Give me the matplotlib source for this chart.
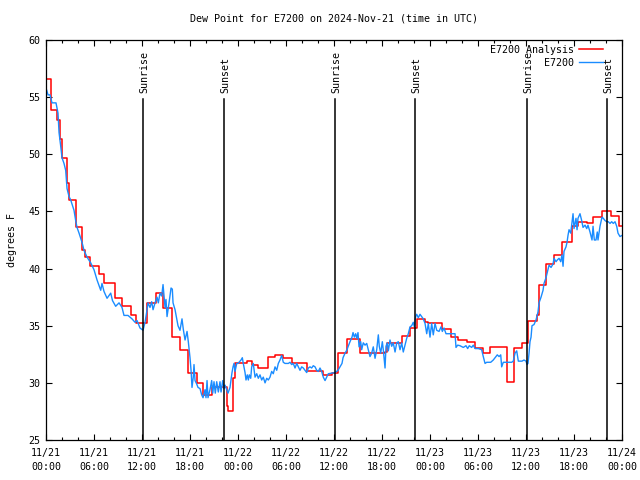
import numpy as np
from matplotlib import pyplot as plt
from matplotlib.ticker import MultipleLocator

# hours since 2024-11-21 00:00 UTC
analysis_t = [0.0, 0.63, 1.38, 1.75, 2.0, 2.6, 2.9, 3.75, 4.5, 4.9, 5.5, 6.6, 7.25, 8.6,
              9.5, 10.6, 11.25, 12.6, 13.75, 14.6, 15.75, 16.75, 17.75, 18.9, 19.6, 20.75,
              22.6, 22.75, 23.4, 23.6, 25.1, 25.75, 26.5, 27.75, 28.6, 29.6, 30.75, 32.6,
              34.6, 35.75, 36.5, 37.6, 39.25, 42.4, 42.6, 44.5, 45.5, 46.4, 47.4, 47.75,
              49.5, 50.6, 51.5, 52.6, 53.6, 54.6, 55.5, 57.6, 58.55, 59.5, 60.3, 61.4,
              61.6, 62.55, 63.55, 64.55, 65.7, 66.45, 67.6, 68.4, 69.5, 70.6, 71.6, 72.0]
analysis_v = [56.6, 53.9, 53.0, 51.3, 49.7, 47.5, 46.0, 43.6, 41.6, 41.0, 40.2, 39.5, 38.7, 37.4,
              36.7, 35.9, 35.2, 37.0, 37.85, 36.55, 34.0, 32.9, 30.9, 30.0, 28.95, 29.6,
              28.0, 27.5, 30.4, 31.7, 31.9, 31.6, 31.3, 32.3, 32.4, 32.2, 31.7, 31.0,
              30.7, 30.9, 32.6, 33.8, 32.6, 32.7, 33.5, 34.1, 34.8, 35.6, 35.3, 35.2,
              34.7, 34.0, 33.75, 33.6, 33.05, 32.6, 33.1, 30.1, 33.05, 33.5, 35.4, 35.9,
              38.6, 40.4, 41.2, 42.3, 43.7, 44.1, 44.0, 44.5, 45.0, 44.6, 43.7, 43.7]

obs_t = [0.09, 0.25, 0.5, 0.75, 1.25, 1.5, 1.63, 1.84, 2.0, 2.25, 2.46, 2.63, 2.88, 3.09,
         3.5, 3.71, 3.88, 4.13, 4.5, 4.75, 5.13, 5.59, 6.0, 6.38, 6.84, 7.0, 7.25, 7.63,
         8.09, 8.31, 8.71, 9.13, 9.5, 9.75, 10.25, 10.75, 11.13, 11.38, 11.75, 12.13,
         12.38, 12.63, 12.75, 13.0, 13.21, 13.38, 13.63, 13.88, 14.04, 14.25, 14.46, 14.63,
         14.88, 15.0, 15.13, 15.38, 15.63, 15.79, 15.88, 16.13, 16.38, 16.5, 16.75, 17.0,
         17.16, 17.38, 17.63, 17.79, 18.0, 18.13, 18.25, 18.41, 18.5, 18.63, 18.84, 19.0,
         19.25, 19.46, 19.63, 19.88, 20.0, 20.13, 20.25, 20.5, 20.71, 20.84, 21.0, 21.16,
         21.34, 21.54, 21.75, 21.88, 22.09, 22.25, 22.38, 22.59, 22.75, 23.0, 23.25, 23.38,
         23.5, 23.63, 23.84, 24.0, 24.38, 24.54, 24.66, 24.88, 25.0, 25.16, 25.29, 25.41,
         25.59, 25.71, 25.91, 26.13, 26.34, 26.54, 26.75, 26.96, 27.16, 27.38, 27.59, 27.79,
         28.0, 28.21, 28.41, 28.63, 28.84, 29.04, 29.25, 29.46, 29.66, 29.88, 30.29, 30.5,
         30.71, 30.91, 31.13, 31.34, 31.54, 31.75, 31.96, 32.16, 32.38, 32.59, 32.79, 33.0,
         33.21, 33.41, 33.63, 33.84, 34.04, 34.25, 34.46, 34.66, 34.88, 35.09, 35.29, 35.75,
         36.13, 36.5, 36.75, 37.0, 37.13, 37.38, 37.63, 37.75, 38.0, 38.25, 38.38, 38.54,
         38.71, 38.84, 39.0, 39.13, 39.34, 39.46, 39.66, 39.88, 40.09, 40.29, 40.5, 40.71,
         40.91, 41.13, 41.34, 41.54, 41.66, 41.84, 42.04, 42.16, 42.38, 42.5, 42.66, 42.79,
         43.0, 43.21, 43.41, 43.63, 43.84, 44.04, 44.25, 44.46, 44.66, 44.88, 45.09, 45.29,
         45.5, 45.71, 45.91, 46.04, 46.21, 46.34, 46.54, 46.75, 46.96, 47.16, 47.38, 47.59,
         47.79, 48.0, 48.21, 48.41, 48.63, 48.84, 49.13, 49.38, 49.54, 49.75, 50.0, 50.25,
         50.75, 51.13, 51.25, 51.46, 51.75, 52.16, 52.5, 52.71, 52.91, 53.21, 53.41, 53.63,
         54.04, 54.46, 54.66, 54.88, 55.09, 55.29, 55.59, 55.91, 56.25, 56.41, 56.63, 56.84,
         56.96, 57.16, 57.59, 58.0, 58.21, 58.41, 58.63, 58.84, 59.04, 59.25, 59.5, 59.75,
         60.0, 60.13, 60.25, 60.38, 60.5, 60.63, 60.75, 61.0, 61.25, 61.5, 61.63, 61.88,
         62.13, 62.25, 62.5, 62.75, 62.88, 63.13, 63.38, 63.5, 63.75, 63.91, 64.13, 64.34,
         64.5, 64.63, 64.75, 65.0, 65.13, 65.25, 65.38, 65.59, 65.75, 65.88, 66.0, 66.25,
         66.38, 66.5, 66.75, 66.96, 67.13, 67.38, 67.59, 67.75, 68.0, 68.25, 68.38, 68.54,
         68.75, 68.91, 69.0, 69.25, 69.5, 69.66, 69.88, 70.09, 70.29, 70.5, 70.71, 70.91,
         71.13, 71.34, 71.5, 71.75, 72.0]
obs_v = [55.6, 55.2, 55.2, 54.5, 54.5, 53.6, 51.9, 50.7, 49.7, 49.2, 48.6, 47.0, 46.3, 46.0,
         45.1, 44.2, 43.6, 43.1, 42.3, 41.6, 41.0, 40.5, 39.9, 39.0, 38.1, 38.7, 38.0, 37.4,
         37.85, 37.2, 36.7, 37.0, 36.6, 35.9, 35.9, 35.6, 35.3, 35.45, 34.8, 34.6,
         35.3, 36.4, 37.0, 36.6, 37.1, 36.4, 37.0, 37.5, 37.0, 37.85, 37.6, 38.6,
         36.6, 37.3, 35.8, 37.0, 38.3, 38.2, 37.0, 36.4, 35.45, 35.0, 34.6, 35.6,
         34.7, 33.75, 34.5, 33.6, 32.2, 31.1, 29.6, 30.5, 31.6, 30.2, 29.9, 29.6,
         29.5, 28.95, 28.7, 29.4, 28.7, 30.2, 28.7, 29.4, 30.2, 29.1, 30.1, 29.1,
         30.1, 29.2, 30.1, 29.2, 30.2, 29.5, 29.8, 29.4, 29.1, 29.6, 30.9, 31.4,
         31.7, 31.0, 31.7, 31.7, 32.0, 32.2, 31.7, 30.9, 30.25, 30.7, 30.25, 30.7,
         30.4, 31.4, 31.7, 30.5, 30.8, 30.4, 30.7, 30.25, 30.5, 30.0, 30.4, 30.25,
         30.5, 31.0, 30.8, 31.4, 31.1, 31.7, 32.0, 32.4, 31.8, 31.7, 31.7, 31.8,
         31.6, 31.7, 31.3, 31.7, 31.4, 31.1, 31.4, 31.3, 31.1, 30.9, 31.3, 31.4,
         31.3, 31.5, 31.4, 31.1, 31.0, 31.3, 31.0, 30.5, 30.2, 30.5, 30.8, 30.85,
         30.9, 31.1, 31.4, 31.7, 32.2, 32.6, 32.9, 33.15, 33.6, 34.0, 34.4, 34.0,
         34.3, 33.9, 34.4, 33.15, 33.6, 32.9, 33.5, 33.3, 33.45, 32.9, 32.3, 32.6,
         33.15, 32.15, 32.9, 34.2, 33.2, 32.6, 33.6, 32.9, 31.3, 33.2, 33.5, 32.8,
         33.75, 33.2, 33.5, 32.7, 33.5, 33.6, 32.9, 33.5, 32.7, 33.3, 33.9, 34.3,
         34.9, 35.0, 35.3, 34.9, 35.8, 36.0, 35.7, 36.0, 35.8, 35.6, 35.2, 34.3,
         35.2, 34.0, 35.2, 34.2, 35.2, 34.6, 34.5, 34.9, 34.5, 34.8, 34.3, 34.3,
         34.3, 34.3, 33.1, 33.3, 33.25, 33.1, 33.25, 33.0, 33.25, 33.1, 33.3, 33.0,
         33.0, 32.9, 32.3, 31.7, 31.8, 31.8, 31.8, 32.0, 32.3, 32.45, 32.3, 32.45,
         31.4, 31.8, 31.8, 31.8, 31.8, 31.9, 32.6, 32.8, 31.9, 31.9, 31.9, 32.0,
         31.9, 31.6, 31.7, 32.6, 33.6, 34.0, 35.0, 35.1, 35.5, 36.2, 37.0, 37.5,
         38.1, 38.7, 39.2, 39.9, 40.3, 40.1, 40.4, 40.9, 40.6, 40.75, 40.9, 40.6,
         41.2, 40.2, 41.5, 41.9, 42.3, 42.9, 43.4, 43.1, 44.0, 44.8, 43.5, 44.4,
         43.4, 44.4, 44.8, 44.2, 43.6, 43.8, 43.5, 43.8, 43.2, 42.5, 43.7, 42.5,
         42.5, 43.2, 42.5, 43.7, 44.5, 44.4, 44.2, 44.1, 44.1, 43.95, 44.1, 43.95,
         44.1, 43.7, 43.1, 42.8, 42.9]

sun_t = [12.16, 22.29, 36.13, 46.16, 60.16, 70.16]
sun_lbl = ['Sunrise', 'Sunset', 'Sunrise', 'Sunset', 'Sunrise', 'Sunset']

tick_hours = list(range(0, 73, 6))
tick_labels = ['11/21\n00:00', '11/21\n06:00', '11/21\n12:00', '11/21\n18:00',
               '11/22\n00:00', '11/22\n06:00', '11/22\n12:00', '11/22\n18:00',
               '11/23\n00:00', '11/23\n06:00', '11/23\n12:00', '11/23\n18:00',
               '11/24\n00:00']

plt.rcParams['font.family'] = 'DejaVu Sans Mono'
fs = 7.2

fig = plt.figure(figsize=(6.4, 4.8), dpi=100)
ax = fig.add_axes([46/640, 40/480, 576/640, 400/480])

ax.plot(analysis_t, analysis_v, drawstyle='steps-post', color='#ff0000', lw=1.1,
        label='E7200 Analysis')
ax.plot(obs_t, obs_v, color='#1a8cff', lw=1.0, label='E7200')

for t, s in zip(sun_t, sun_lbl):
    ax.plot([t, t], [25, 54.8], color='black', lw=1.1)
    ax.text(t + 0.15, 55.4, s, rotation=90, ha='center', va='bottom', fontsize=fs)

ax.set_xlim(0, 72)
ax.set_ylim(25, 60)
ax.set_xticks(tick_hours)
ax.set_xticklabels(tick_labels)
for lab in ax.get_xticklabels():
    lab.set_linespacing(1.6)
ax.xaxis.set_minor_locator(MultipleLocator(2))
ax.yaxis.set_major_locator(MultipleLocator(5))
ax.tick_params(which='both', direction='in', top=True, right=True, labelsize=fs, width=0.8)
ax.tick_params(which='major', length=4.5, pad=4)
ax.tick_params(axis='x', which='major', pad=5.5)
ax.tick_params(which='minor', length=2.5)
for sp in ax.spines.values():
    sp.set_linewidth(0.9)

ax.set_ylabel('degrees F', fontsize=fs, labelpad=8)
ax.set_title('Dew Point for E7200 on 2024-Nov-21 (time in UTC)', fontsize=fs, pad=13)

ax.legend(loc='upper right', bbox_to_anchor=(0.972, 0.996), frameon=False, markerfirst=False,
          fontsize=fs, handlelength=2.4, handletextpad=0.5, labelspacing=0.3,
          borderaxespad=0.2, borderpad=0.1)

fig.savefig('out.png', dpi=100)
